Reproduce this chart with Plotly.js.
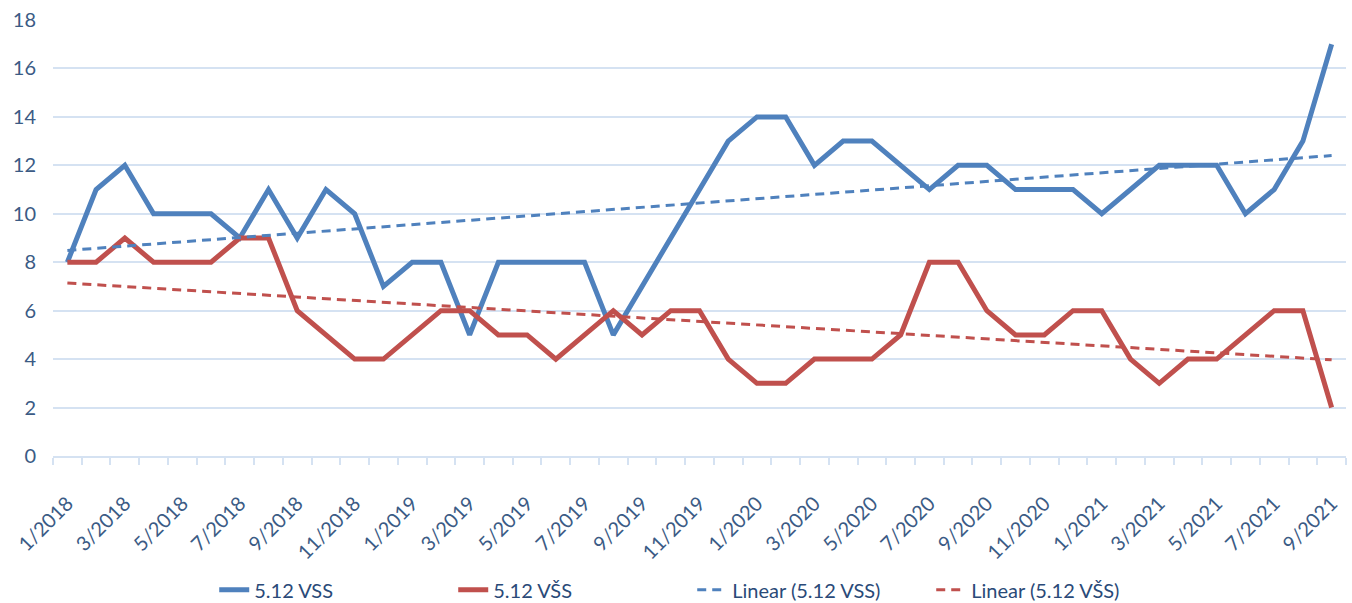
<!DOCTYPE html>
<html>
<head>
<meta charset="utf-8">
<script src="https://cdn.plot.ly/plotly-3.0.1.min.js"></script>
<style>html,body{margin:0;padding:0;background:#fff;}#chart{width:1352px;height:603px;}</style>
</head>
<body>
<div id="chart"></div>
<script>
const months = ["1/2018","2/2018","3/2018","4/2018","5/2018","6/2018","7/2018","8/2018","9/2018","10/2018","11/2018","12/2018",
"1/2019","2/2019","3/2019","4/2019","5/2019","6/2019","7/2019","8/2019","9/2019","10/2019","11/2019","12/2019",
"1/2020","2/2020","3/2020","4/2020","5/2020","6/2020","7/2020","8/2020","9/2020","10/2020","11/2020","12/2020",
"1/2021","2/2021","3/2021","4/2021","5/2021","6/2021","7/2021","8/2021","9/2021"];
const vss = [8,11,12,10,10,10,9,11,9,11,10,7,8,8,5,8,8,8,8,5,7,9,11,13,14,14,12,13,13,12,11,12,12,11,11,11,10,11,12,12,12,10,11,13,17];
const vzs = [8,8,9,8,8,8,9,9,6,5,4,4,5,6,6,5,5,4,5,6,5,6,6,4,3,3,4,4,4,5,8,8,6,5,5,6,6,4,3,4,4,5,6,6,2];
const seriesNames = ["5.12 VSS","5.12 VŠS","Linear (5.12 VSS)","Linear (5.12 VŠS)"];
const yTicks = [0,2,4,6,8,10,12,14,16,18];

const idx = months.map((m,i)=>i);
function linfit(y){
  const n=y.length; let sx=0,sy=0,sxx=0,sxy=0;
  for(let i=0;i<n;i++){sx+=i;sy+=y[i];sxx+=i*i;sxy+=i*y[i];}
  const b=(n*sxy-sx*sy)/(n*sxx-sx*sx); const a=(sy-b*sx)/n;
  return idx.map(i=>a+b*i);
}
const labelIdx = idx.filter(i=>i%2===0);
const labelText = labelIdx.map(i=>months[i]);
const boundaries = idx.map(i=>i-0.5).concat([idx.length-0.5]);

const blue='#4f81bd', red='#c0504d', txt='#3b5b85', grid='#d5e2f2';
const traces = [
  {x:idx,y:vss,name:seriesNames[0],type:'scatter',mode:'lines',line:{color:blue,width:5}},
  {x:idx,y:vzs,name:seriesNames[1],type:'scatter',mode:'lines',line:{color:red,width:5}},
  {x:idx,y:linfit(vss),name:seriesNames[2],type:'scatter',mode:'lines',line:{color:blue,width:3,dash:'9px,6px'}},
  {x:idx,y:linfit(vzs),name:seriesNames[3],type:'scatter',mode:'lines',line:{color:red,width:3,dash:'9px,6px'}}
];
const layout = {
  width:1352,height:603,
  margin:{l:53,r:6,t:20,b:147,autoexpand:false},
  paper_bgcolor:'#fff',plot_bgcolor:'#fff',
  font:{family:'Lato, sans-serif',color:txt,size:20},
  showlegend:true,
  legend:{orientation:'h',xref:'container',yref:'container',x:0.512,xanchor:'center',y:0.022,yanchor:'middle',
    font:{size:20,color:'#2a4a78'},entrywidth:194,entrywidthmode:'pixels',traceorder:'normal'},
  xaxis:{range:[-0.5,idx.length-0.5],tickmode:'array',tickvals:labelIdx,ticktext:labelText,tickangle:-45,automargin:false,
    ticks:'',showgrid:false,zeroline:false,showline:true,linecolor:grid,linewidth:2,
    tickfont:{size:20,color:txt},ticklabelstandoff:26,
    minor:{tickmode:'array',tickvals:boundaries,ticks:'outside',ticklen:7,tickcolor:grid,tickwidth:2,showgrid:false}},
  yaxis:{range:[0,18],tickmode:'array',tickvals:yTicks,showgrid:true,gridcolor:grid,gridwidth:2,zeroline:false,automargin:false,
    ticks:'',tickfont:{size:20,color:txt},ticklabelstandoff:16,fixedrange:true}
};
Plotly.newPlot('chart',traces,layout,{displayModeBar:false,staticPlot:true});
</script>
</body>
</html>
